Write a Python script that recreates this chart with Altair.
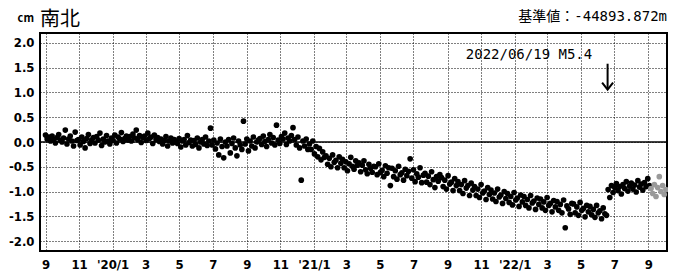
import altair as alt
import pandas as pd

# ---- data (cm), one sample every 3 days from 2019-09-01 ----
start_date = "2019-09-01"
step = "3D"

v_2019 = [  # Sep 2019 - Dec 2019
    0.14, 0.06, 0.10, 0.02, 0.12, 0.05, -0.02, 0.09, 0.15, 0.04,
    0.00, 0.08, 0.24, -0.04, 0.06, 0.12, 0.02, -0.08, 0.20, 0.03,
    0.05, -0.06, 0.10, 0.01, -0.12, 0.07, 0.15, -0.03, 0.04, 0.09,
    -0.02, 0.11, 0.04, 0.18, -0.07, 0.06, 0.00, 0.13, 0.02, -0.04,
]
v_2020 = [
    0.08, 0.03, 0.14, -0.02, 0.10, 0.06, 0.19, 0.01, 0.07, 0.12,
    0.04, 0.11, 0.02, 0.16, 0.08, 0.24, 0.05, 0.13, -0.01, 0.09,
    0.12, 0.03, 0.18, 0.07, 0.10, -0.03, 0.14, 0.05, 0.09, 0.01,
    0.06, -0.04, 0.03, 0.11, -0.08, 0.02, 0.08, -0.02, 0.05, 0.00,
    -0.03, 0.07, -0.10, 0.02, 0.05, -0.06, 0.13, -0.01, 0.04, -0.08,
    0.03, -0.05, 0.08, -0.12, 0.00, 0.05, -0.04, 0.10, -0.07, 0.02,
    0.28, -0.06, 0.04, -0.14, -0.02, -0.26, 0.06, -0.09, -0.32, 0.00,
    -0.08, 0.05, -0.22, -0.03, 0.08, -0.12, -0.28, 0.02, -0.06, -0.15,
    0.42, -0.04, 0.06, -0.18, 0.02, -0.08, 0.10, -0.12, 0.00, 0.04,
    0.07, -0.05, 0.12, 0.01, -0.09, 0.05, 0.15, -0.02, 0.09, -0.06,
    0.34, 0.04, -0.03, 0.11, 0.06, 0.18, -0.05, 0.08, 0.02, 0.13,
    0.29, 0.05, -0.06, 0.10, -0.12, -0.77, 0.02, -0.08, 0.06, -0.15,
]
v_2021 = [
    -0.04, -0.15, 0.02, -0.24, -0.09, -0.30, -0.13, -0.36, -0.20, -0.31,
    -0.28, -0.45, -0.33, -0.50, -0.26, -0.41, -0.37, -0.52, -0.30, -0.43,
    -0.35, -0.52, -0.40, -0.58, -0.44, -0.31, -0.49, -0.55, -0.38, -0.47,
    -0.42, -0.60, -0.47, -0.38, -0.56, -0.64, -0.45, -0.53, -0.61, -0.49,
    -0.50, -0.66, -0.44, -0.61, -0.57, -0.70, -0.48, -0.63, -0.52, -0.88,
    -0.53, -0.70, -0.58, -0.75, -0.49, -0.66, -0.62, -0.77, -0.55, -0.68,
    -0.59, -0.34, -0.73, -0.56, -0.80, -0.64, -0.71, -0.52, -0.82, -0.67,
    -0.63, -0.81, -0.69, -0.86, -0.60, -0.76, -0.92, -0.70, -0.79, -0.66,
    -0.72, -0.90, -0.77, -0.95, -0.68, -0.85, -0.81, -0.98, -0.74, -0.88,
    -0.80, -0.98, -0.86, -1.04, -0.78, -0.93, -0.88, -1.08, -0.83, -0.97,
    -0.90, -1.08, -0.95, -1.12, -0.86, -1.03, -0.99, -1.16, -0.92, -1.06,
    -0.97, -1.15, -1.03, -1.20, -0.95, -1.11, -1.07, -1.24, -1.00, -1.14,
]
v_2022_pre = [  # Jan 2022 - 2022/06/18
    -1.04, -1.22, -1.10, -1.27, -1.02, -1.17, -1.13, -1.30, -1.07, -1.21,
    -1.10, -1.28, -1.16, -1.33, -1.08, -1.23, -1.19, -1.36, -1.13, -1.26,
    -1.15, -1.33, -1.21, -1.38, -1.12, -1.28, -1.24, -1.41, -1.18, -1.31,
    -1.20, -1.38, -1.26, -1.43, -1.17, -1.73, -1.29, -1.35, -1.46, -1.24,
    -1.25, -1.43, -1.31, -1.48, -1.22, -1.38, -1.34, -1.51, -1.28, -1.41,
    -1.30, -1.47, -1.36, -1.52, -1.28, -1.43, -1.39, -1.55, -1.33, -1.45,
    -1.48,
]
v_2022_post = [  # after 2022/06/19
    -0.96, -1.12, -0.88, -1.02, -0.92, -0.84, -0.98, -0.90, -1.05, -0.86,
    -0.94, -0.80, -0.99, -0.89, -0.83, -0.95, -0.87, -1.01, -0.78, -0.91,
    -0.85, -0.97, -0.82, -0.90, -0.74, -0.88,
]
v_gray = [  # provisional (grey) solutions
    -0.94, -1.04, -0.86, -1.10, -0.92, -0.70, -1.00, -0.88, -1.06, -0.96,
]

black_vals = v_2019 + v_2020 + v_2021 + v_2022_pre + v_2022_post
all_vals = black_vals + v_gray
kinds = ["final"] * len(black_vals) + ["quick"] * len(v_gray)
dates = pd.date_range(start_date, periods=len(all_vals), freq=step)
df = pd.DataFrame({
    "date": dates.strftime("%Y-%m-%dT%H:%M:%S"),
    "v": all_vals,
    "kind": kinds,
})

tick_months = [(2019, 9), (2019, 11)] + [
    (y, m) for y in (2020, 2021, 2022) for m in (1, 3, 5, 7, 9, 11)
]
tick_months = [t for t in tick_months if t <= (2022, 9)]
x_ticks = [alt.DateTime(year=y, month=m, date=1) for y, m in tick_months]
y_ticks = [-2.0, -1.5, -1.0, -0.5, 0.0, 0.5, 1.0, 1.5, 2.0]

quake_date = "2022-06-19T00:00:00"
quake_label = "2022/06/19 M5.4"
title_unit = "cm"
title_main = "南北"
base_text = "基準値：-44893.872m"

mono = "DejaVu Sans Mono, Noto Sans CJK JP"
tick_font = "DejaVu Sans Condensed, Noto Sans CJK JP"

x_scale = alt.Scale(domain=[alt.DateTime(year=2019, month=8, date=22),
                            alt.DateTime(year=2022, month=10, date=5)])
y_scale = alt.Scale(domain=[-2.2, 2.2], nice=False, zero=False)

x_label_expr = ("month(datum.value) == 0 ? \"'\" + timeFormat(datum.value, '%y') + '/1'"
                " : '' + (month(datum.value) + 1)")
y_label_expr = "(datum.value < 0 ? '-' : '') + format(abs(datum.value), '.1f')"

x_enc = alt.X("date:T", scale=x_scale, title=None,
              axis=alt.Axis(values=x_ticks, tickCount=60, labelExpr=x_label_expr,
                            grid=True, ticks=False, domain=False, labelPadding=7,
                            labelAngle=0, labelOverlap=False))
y_enc = alt.Y("v:Q", scale=y_scale, title=None,
              axis=alt.Axis(values=y_ticks, tickCount=40, labelExpr=y_label_expr,
                            grid=True, ticks=False, domain=False,
                            labelPadding=6, labelOverlap=False))

points = alt.Chart(df).mark_circle(size=32, opacity=1).encode(
    x=x_enc, y=y_enc,
    color=alt.Color("kind:N", scale=alt.Scale(domain=["final", "quick"],
                                             range=["#000000", "#9a9a9a"]),
                    legend=None),
)

zero = alt.Chart(pd.DataFrame({"v": [0.0]})).mark_rule(
    color="black", strokeWidth=1.5).encode(y=alt.Y("v:Q", scale=y_scale))

arrow_df = pd.DataFrame({"date": [quake_date], "y1": [1.58], "y2": [1.07],
                         "tip": [1.055]})
arrow_line = alt.Chart(arrow_df).mark_rule(color="black", strokeWidth=2).encode(
    x=alt.X("date:T", scale=x_scale),
    y=alt.Y("y1:Q", scale=y_scale), y2="y2:Q")
arrow_head = alt.Chart(arrow_df).mark_point(
    shape="M-1,-1.3L0,0L1,-1.3", size=120, filled=False, stroke="black",
    strokeWidth=2, opacity=1).encode(
    x=alt.X("date:T", scale=x_scale), y=alt.Y("tip:Q", scale=y_scale))

one = pd.DataFrame({"a": [0]})
ann = alt.Chart(one).mark_text(font=mono, fontSize=14, align="center",
                               baseline="alphabetic", color="black").encode(
    x=alt.value(489), y=alt.value(26), text=alt.value(quake_label))
t_unit = alt.Chart(one).mark_text(font="Noto Sans CJK JP", fontSize=11,
                                  fontWeight="bold", align="right",
                                  baseline="alphabetic", color="black").encode(
    x=alt.value(-6), y=alt.value(-11), text=alt.value(title_unit))
t_main = alt.Chart(one).mark_text(font="Noto Sans CJK JP", fontSize=20,
                                  align="left", baseline="alphabetic",
                                  color="black").encode(
    x=alt.value(0), y=alt.value(-7), text=alt.value(title_main))
t_base = alt.Chart(one).mark_text(font=mono, fontSize=14, align="right",
                                  baseline="alphabetic", color="black").encode(
    x=alt.value(627), y=alt.value(-12), text=alt.value(base_text))

chart = alt.layer(points, zero, arrow_line, arrow_head, ann, t_unit, t_main,
                  t_base).properties(
    width=627, height=218,
    background="white",
    autosize=alt.AutoSizeParams(type="none"),
    padding={"left": 32, "top": 25, "right": 1, "bottom": 20},
).configure_view(stroke="black", strokeWidth=2).configure_axis(
    gridColor="black", gridDash=[1, 2], gridWidth=1, gridOpacity=1,
    labelFont=tick_font, labelFontWeight="bold", labelFontSize=13,
    labelColor="black",
)

chart.save("out.html", embed_options={"renderer": "svg", "actions": False})
